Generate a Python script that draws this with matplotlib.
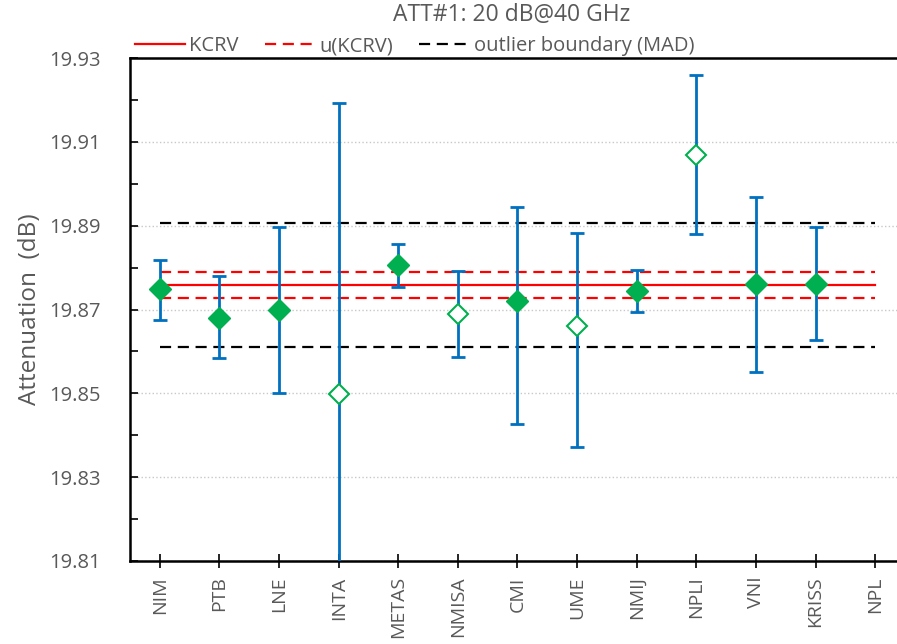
import numpy as np
import matplotlib.pyplot as plt
from matplotlib.ticker import FixedLocator, FormatStrFormatter

plt.rcParams['font.family'] = ['Open Sans', 'DejaVu Sans']

labs = ["NIM", "PTB", "LNE", "INTA", "METAS", "NMISA", "CMI", "UME",
        "NMIJ", "NPLI", "VNI", "KRISS", "NPL"]
vals = [19.8749, 19.8680, 19.8699, 19.8498, 19.8806, 19.8689, 19.8721,
        19.8661, 19.8745, 19.9069, 19.8761, 19.8761, np.nan]
upper = [19.8818, 19.8780, 19.8897, 19.9193, 19.8856, 19.8792, 19.8945,
         19.8882, 19.8794, 19.9259, 19.8969, 19.8898, np.nan]
lower = [19.8675, 19.8584, 19.8501, 19.7803, 19.8754, 19.8587, 19.8427,
         19.8372, 19.8694, 19.8879, 19.8550, 19.8627, np.nan]
used = [True, True, True, False, True, False, True, False,
        True, False, True, True, False]

kcrv = 19.8758
u_hi, u_lo = 19.8789, 19.8728
mad_hi, mad_lo = 19.8906, 19.8611

yticks = [19.81, 19.83, 19.85, 19.87, 19.89, 19.91, 19.93]
yminor = [19.82, 19.84, 19.86, 19.88, 19.90, 19.92]

x = np.arange(len(labs))
vals = np.array(vals)
yerr = np.array([vals - np.array(lower), np.array(upper) - vals])

fig = plt.figure(figsize=(8.97, 6.44), dpi=100)
ax = fig.add_axes([0.1449, 0.1289, 0.864, 0.781])

gray = "#595959"
blue = "#0070C0"
green = "#00B050"

ax.grid(axis='y', color='#c8c8c8', linestyle=':', linewidth=1)
ax.set_axisbelow(True)

ax.plot([0, 12], [kcrv, kcrv], color='red', lw=1.6, label='KCRV', zorder=2)
ax.plot([0, 12], [u_hi, u_hi], color='red', lw=1.6, ls=(0, (5, 3)), label='u(KCRV)', zorder=2)
ax.plot([0, 12], [u_lo, u_lo], color='red', lw=1.6, ls=(0, (5, 3)), zorder=2)
ax.plot([0, 12], [mad_hi, mad_hi], color='black', lw=1.6, ls=(0, (5, 3)),
        label='outlier boundary (MAD)', zorder=2)
ax.plot([0, 12], [mad_lo, mad_lo], color='black', lw=1.6, ls=(0, (5, 3)), zorder=2)

ax.errorbar(x, vals, yerr=yerr, fmt='none', ecolor=blue, elinewidth=2,
            capsize=5, capthick=2, zorder=3)

for xi, v, u in zip(x, vals, used):
    if np.isnan(v):
        continue
    if u:
        ax.plot(xi, v, marker='D', ms=11, color=green, mec=green, zorder=4)
    else:
        ax.plot(xi, v, marker='D', ms=10, mfc='white', mec=green, mew=1.5, zorder=4)

ax.set_xlim(-0.5, 12.5)
ax.set_ylim(19.81, 19.93)
ax.yaxis.set_major_locator(FixedLocator(yticks))
ax.yaxis.set_minor_locator(FixedLocator(yminor))
ax.yaxis.set_major_formatter(FormatStrFormatter('%.2f'))
ax.set_xticks(x)
ax.set_xticklabels(labs, rotation=90, fontsize=14, color=gray)

ax.tick_params(axis='y', which='both', direction='in', length=6, width=1.2,
               labelsize=14.5, labelcolor=gray, pad=21)
ax.tick_params(axis='x', direction='inout', length=10, width=1.2, pad=6)

for s in ['left', 'bottom', 'top']:
    ax.spines[s].set_linewidth(1.8)
ax.spines['right'].set_visible(False)

ax.set_ylabel("Attenuation  (dB)", fontsize=17.5, color=gray, labelpad=5)
fig.text(0.57, 0.976, "ATT#1: 20 dB@40 GHz", fontsize=16.5, color=gray,
         ha='center', va='center')

ax.legend(loc='lower left', bbox_to_anchor=(0.004, 1.0), ncol=3, frameon=False,
          fontsize=14.5, handlelength=2.5, handletextpad=0.2, columnspacing=1.3,
          borderaxespad=0, borderpad=0.1, labelcolor=gray)

fig.savefig("out.png", dpi=100)
